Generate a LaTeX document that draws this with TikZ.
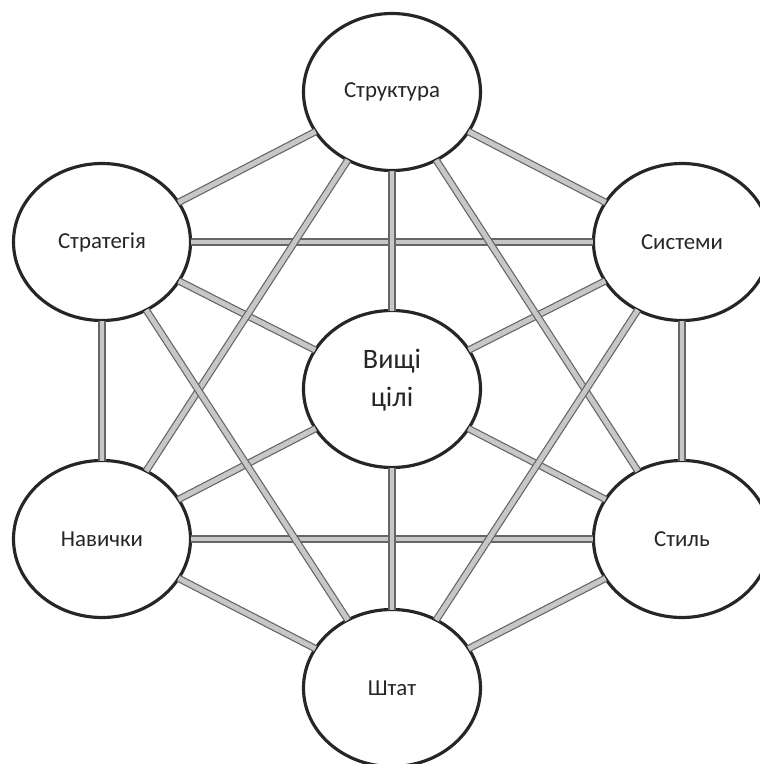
\documentclass[tikz,border=0pt]{standalone}
\usepackage{fontspec}
\setmainfont{Carlito}
\usepackage{tkz-graph}
\usetikzlibrary{shapes.geometric}

\begin{document}
\begin{tikzpicture}
\GraphInit[vstyle=Normal]
\tikzset{VertexStyle/.style = {shape = ellipse, minimum width = 1.77cm, minimum height = 1.57cm, inner sep = 0pt,
  draw = black!85, line width = 0.9pt, fill = white, text = black!85, font = \fontsize{6.5}{8}\selectfont, align = center}}
\tikzset{EdgeStyle/.style = {draw = black!60, line width = 0.35pt, double = black!22, double distance = 1.4pt}}
\useasboundingbox (0,0) rectangle (7.6,7.64);

\Vertex[x=3.92, y=6.72, L=Структура]{Struct}
\Vertex[x=1.02, y=5.22, L=Стратегія]{Strat} \Vertex[x=6.82, y=5.22, L=Системи]{Sys}
\Vertex[x=3.92, y=3.75, L={\fontsize{8}{10.8}\selectfont\begin{tabular}{@{}c@{}}Вищі\\цілі\protect\rule[-0.29cm]{0pt}{0.29cm}\end{tabular}}]{Goals}
\Vertex[x=1.02, y=2.25, L=Навички]{Skill} \Vertex[x=6.82, y=2.25, L=Стиль]{Sty}
\Vertex[x=3.92, y=0.76, L=Штат]{Staff}
\Edges(Strat,Struct,Sys,Sty,Staff,Skill,Strat) \Edge(Strat)(Sys) \Edge(Skill)(Sty)
\Edges(Struct,Goals,Staff) \Edges(Strat,Goals,Sty) \Edges(Sys,Goals,Skill)
\Edges(Skill,Struct,Sty) \Edges(Strat,Staff,Sys)
\end{tikzpicture}
\end{document}
